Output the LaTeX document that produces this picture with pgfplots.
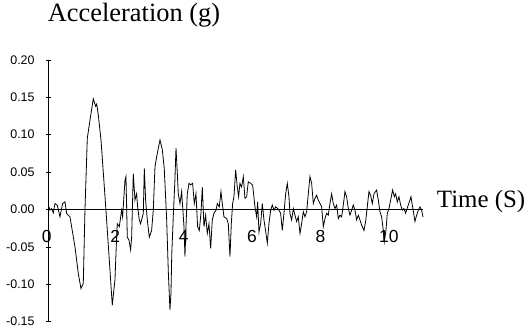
\documentclass[border=0pt]{standalone}
\usepackage{fontspec}
\setmainfont{Liberation Serif}
\newfontfamily\arial{Liberation Sans}
\usepackage{pgfplots}
\pgfplotsset{compat=1.18}
\usepackage{pgfplotstable}
\pgfplotstableread{
t a
0 0.0058
0.049 -0.0009
0.097 0.0013
0.146 -0.0045
0.195 0.008
0.263 0.0058
0.341 -0.0098
0.419 0.008
0.487 0.0102
0.536 -0.0053
0.634 -0.0098
0.780 -0.0499
0.877 -0.0856
0.955 -0.1056
1.023 -0.0989
1.072 -0.0009
1.14 0.095
1.22 0.12
1.316 0.148
1.385 0.138
1.415 0.141
1.463 0.126
1.541 0.093
1.686 -0.0009
1.803 -0.081
1.871 -0.128
1.949 -0.094
1.998 -0.037
2.018 -0.019
2.076 -0.023
2.144 -0.001
2.173 -0.0098
2.242 0.039
2.271 0.044
2.310 -0.037
2.359 -0.041
2.407 -0.054
2.437 -0.037
2.485 0.048
2.534 0.0125
2.583 0.021
2.612 0.0036
2.661 -0.014
2.700 -0.019
2.778 -0.005
2.807 0.055
2.846 0.0125
2.895 -0.014
2.953 -0.037
3.021 -0.028
3.070 -0.001
3.119 0.057
3.17 0.071
3.266 0.093
3.334 0.080
3.39 0.055
3.46 -0.012
3.509 -0.083
3.557 -0.134
3.587 -0.112
3.61 -0.060
3.66 -0.003
3.70 0.037
3.734 0.082
3.773 0.048
3.801 0.021
3.850 0.008
3.899 0.024
3.928 0.0036
3.967 -0.023
3.996 -0.063
4.025 -0.023
4.064 0.021
4.113 0.035
4.162 0.033
4.220 0.035
4.269 0.008
4.318 0.021
4.366 -0.023
4.415 -0.028
4.464 -0.005
4.503 0.030
4.552 -0.023
4.600 -0.0076
4.649 -0.032
4.698 -0.019
4.747 -0.052
4.795 -0.014
4.844 -0.005
4.903 -0.001
4.942 0.008
5.000 0.0036
5.049 0.024
5.088 0.008
5.136 -0.0098
5.214 -0.012
5.263 -0.019
5.312 -0.063
5.351 -0.019
5.390 0.008
5.429 0.017
5.478 0.053
5.526 0.030
5.565 0.017
5.604 0.035
5.653 0.030
5.702 0.044
5.750 0.015
5.799 0.017
5.848 0.037
5.916 0.035
5.975 0.0325
6.043 0.0036
6.092 -0.0098
6.121 0.010
6.160 -0.030
6.209 -0.019
6.257 0.008
6.306 -0.014
6.365 -0.032
6.404 -0.045
6.452 -0.019
6.501 -0.001
6.550 0.006
6.599 -0.001
6.647 0.0036
6.706 0.0013
6.745 -0.001
6.793 -0.005
6.842 -0.028
6.891 -0.005
6.940 0.021
6.988 0.035
7.037 0.017
7.066 -0.005
7.115 -0.014
7.164 0.0013
7.212 -0.0076
7.261 -0.016
7.310 -0.0098
7.359 -0.032
7.407 -0.019
7.456 -0.003
7.505 -0.0098
7.554 -0.003
7.602 0.021
7.651 0.044
7.700 0.035
7.749 0.008
7.797 0.015
7.846 0.019
7.895 0.0125
7.943 0.008
7.992 0.0036
8.041 -0.023
8.090 -0.012
8.138 -0.005
8.187 -0.0076
8.236 0.008
8.285 0.021
8.333 0.008
8.382 0.0013
8.431 0.006
8.480 -0.012
8.528 -0.0076
8.577 -0.0098
8.626 0.006
8.674 0.024
8.723 0.017
8.772 0.0013
8.821 -0.0076
8.869 -0.001
8.918 0.006
8.967 -0.001
9.016 -0.014
9.064 -0.0076
9.113 -0.014
9.162 -0.021
9.230 -0.028
9.279 -0.016
9.327 0.0036
9.376 0.024
9.425 0.019
9.474 0.008
9.522 0.021
9.600 0.026
9.649 0.0125
9.698 -0.003
9.747 -0.0098
9.795 -0.028
9.825 -0.043
9.873 -0.028
9.912 -0.005
9.961 0.0013
10.010 0.0125
10.068 0.026
10.117 0.017
10.156 0.021
10.205 0.010
10.253 0.017
10.302 0.006
10.351 -0.001
10.400 0.0013
10.448 -0.005
10.507 0.0036
10.556 0.010
10.604 0.017
10.643 0.006
10.682 -0.005
10.721 -0.016
10.770 -0.0076
10.818 -0.001
10.867 0.0036
10.916 -0.001
10.955 -0.0098
}\accdata
\begin{document}
\begin{tikzpicture}
\begin{axis}[
  x=34.2bp, y=748bp,
  xmin=0, xmax=10.96, ymin=-0.15, ymax=0.20,
  axis x line*=bottom, axis y line*=left,
  x axis line style={draw=none},
  y axis line style={-, line width=0.8bp, black},
  xtick={0,2,4,6,8,10},
  xticklabels={0,2,4,6,8,10},
  xtick style={draw=none},
  ytick={-0.15,-0.10,-0.05,0,0.05,0.10,0.15,0.20},
  yticklabels={-0.15,-0.10,-0.05,0.00,0.05,0.10,0.15,0.20},
  extra y ticks={0},
  extra y tick labels={},
  extra y tick style={grid=major, major grid style={black, line width=0.8bp}, tick style={draw=none}},
  tick align=center,
  major tick length=5bp,
  ytick style={black, line width=0.6bp},
  xticklabel style={font=\arial\fontsize{17.5}{18}\selectfont, anchor=base, inner sep=0pt, yshift=81.7bp, xshift=-1.5bp},
  yticklabel style={font=\arial\fontsize{12.5}{13}\selectfont, anchor=east, inner sep=0pt, xshift=-11bp},
  clip=false,
]
\addplot[black, line width=0.8bp] table[x=t, y=a] {\accdata};
\coordinate (O) at (axis cs:0,0);
\end{axis}
\node[anchor=base west, inner sep=0pt, font=\fontsize{26.5}{28}\selectfont] at ([shift={(-0.6bp,187.8bp)}]O) {Acceleration (g)};
\node[anchor=base west, inner sep=0pt, font=\fontsize{25}{28}\selectfont] at ([shift={(388.4bp,2.2bp)}]O) {Time (S)};
\pgfresetboundingbox
\path[use as bounding box] ([shift={(-48.3bp,-122.5bp)}]O) rectangle ([shift={(481.7bp,209.5bp)}]O);
\end{tikzpicture}
\end{document}
